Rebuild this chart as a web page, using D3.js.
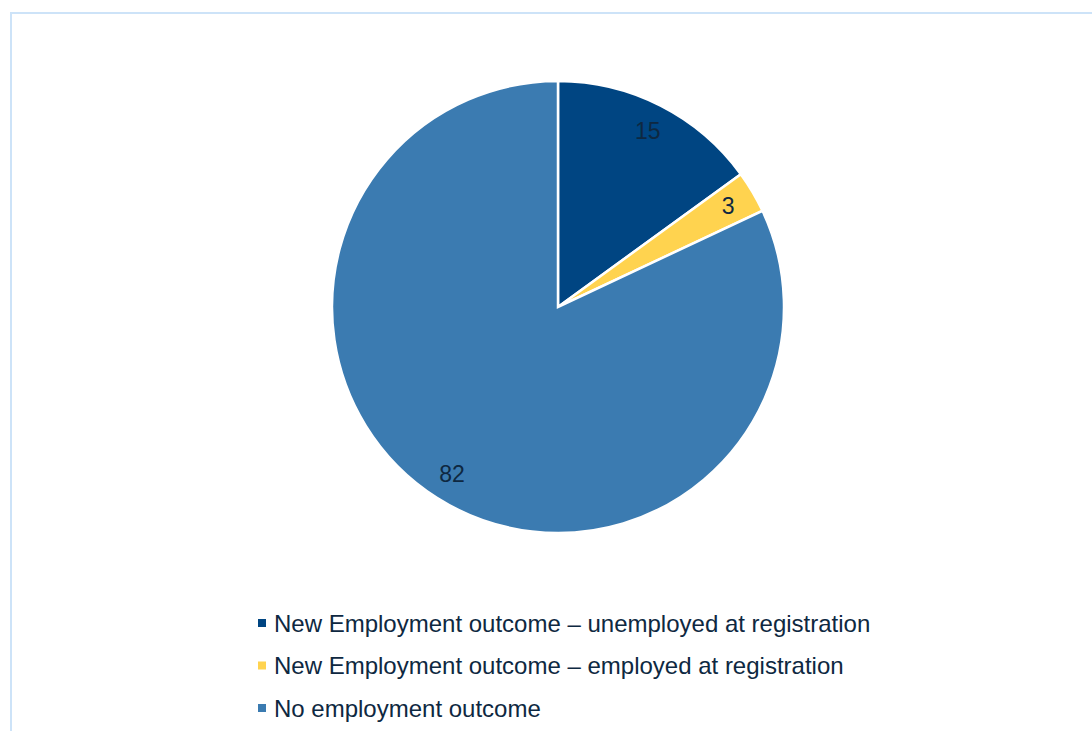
<!DOCTYPE html>
<html>
<head>
<meta charset="utf-8">
<script src="https://cdn.jsdelivr.net/npm/d3@7"></script>
<style>
  html, body { margin: 0; padding: 0; background: #ffffff; }
  svg { display: block; }
</style>
</head>
<body>
<svg id="chart" width="1092" height="731"></svg>
<script>
// Share of participants by employment outcome (per cent)
const categories = [
  "New Employment outcome \u2013 unemployed at registration",
  "New Employment outcome \u2013 employed at registration",
  "No employment outcome"
];
const shares = [15, 3, 82];
const sliceColors = ["#004582", "#ffd34f", "#3b7bb1"];

const svg = d3.select("#chart");
const W = 1092, H = 731;
const textColor = "#0e2841";
const fontFamily = "'Liberation Sans', Arial, sans-serif";

// Outer frame of the chart area (runs past the right and bottom edges)
svg.append("rect")
  .attr("x", 11).attr("y", 13)
  .attr("width", W + 20).attr("height", H + 20)
  .attr("fill", "none")
  .attr("stroke", "#cde3f8")
  .attr("stroke-width", 2);

const cx = 558, cy = 307, radius = 226;

const data = categories.map((c, i) => ({ name: c, value: shares[i], color: sliceColors[i] }));

const pie = d3.pie().value(d => d.value).sort(null);
const arc = d3.arc().innerRadius(0).outerRadius(radius);
const labelArc = d3.arc().innerRadius(radius * 0.875).outerRadius(radius * 0.875);

const g = svg.append("g").attr("transform", `translate(${cx},${cy})`);
const arcs = pie(data);

g.selectAll("path.slice")
  .data(arcs)
  .join("path")
  .attr("class", "slice")
  .attr("d", arc)
  .attr("fill", d => d.data.color)
  .attr("stroke", "#ffffff")
  .attr("stroke-width", 2.5)
  .attr("stroke-linejoin", "miter");

g.selectAll("text.value")
  .data(arcs)
  .join("text")
  .attr("class", "value")
  .attr("transform", d => `translate(${labelArc.centroid(d)})`)
  .attr("text-anchor", "middle")
  .attr("dominant-baseline", "central")
  .attr("font-family", fontFamily)
  .attr("font-size", 23)
  .attr("fill", textColor)
  .text(d => d.data.value);

// Legend
const legend = svg.append("g").attr("transform", "translate(258,623)");
const rowGap = 42.5;
const rows = legend.selectAll("g.row")
  .data(data)
  .join("g")
  .attr("class", "row")
  .attr("transform", (d, i) => `translate(0,${i * rowGap})`);

rows.append("rect")
  .attr("x", 0).attr("y", -4)
  .attr("width", 8).attr("height", 8)
  .attr("fill", d => d.color);

rows.append("text")
  .attr("x", 16).attr("y", 0)
  .attr("dominant-baseline", "central")
  .attr("font-family", fontFamily)
  .attr("font-size", 24)
  .attr("fill", textColor)
  .text(d => d.name);
</script>
</body>
</html>
